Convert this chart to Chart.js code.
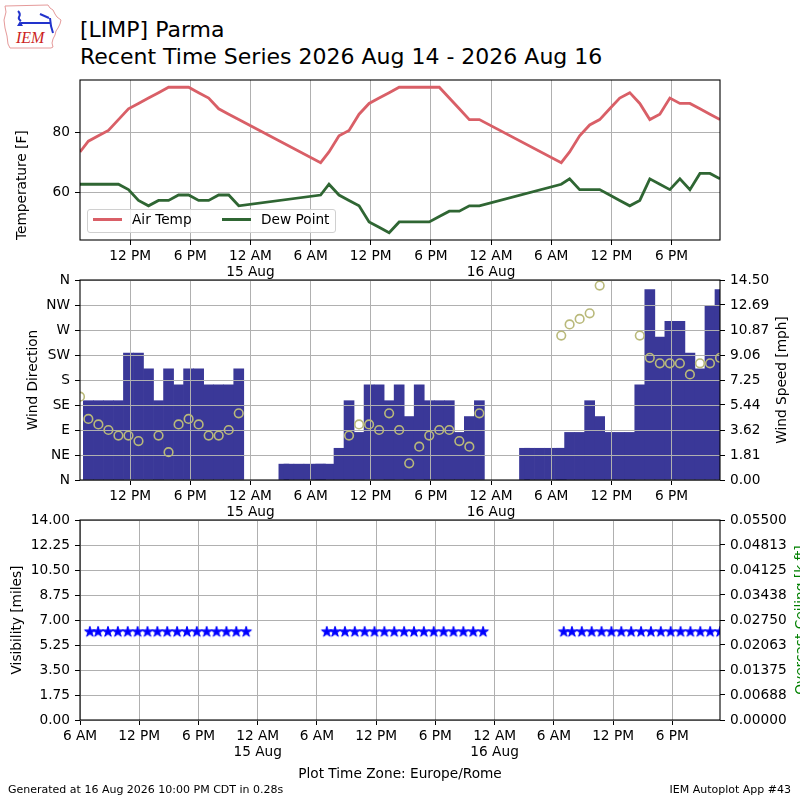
<!DOCTYPE html>
<html><head><meta charset="utf-8">
<script src="https://cdn.jsdelivr.net/npm/chart.js@4.4.1/dist/chart.umd.min.js"></script>
<style>
 html,body{margin:0;padding:0;background:#fff;}
 #wrap{position:relative;width:800px;height:800px;overflow:hidden;background:#fff;font-family:"DejaVu Sans",sans-serif;color:#000;}
 .abs{position:absolute;white-space:nowrap;}
 canvas{position:absolute;left:0;}
</style></head><body>
<div id="wrap">
 <svg class="abs" style="left:0;top:0" width="70" height="55" viewBox="0 0 70 55">
  <path d="M5 6 L48 5 L50 8 L53 10 L55 14 L57 17 L61 20 L60 24 L58 28 L56 31 L55 35 L53 39 L52 43 L53 47 L51 48 L10 48 L8 44 L7 36 L5 28 L4 20 L6 12 Z" fill="none" stroke="#e59a9a" stroke-width="1"/>
  <g stroke="#2233cc" stroke-width="2" fill="none">
   <path d="M21 23 L50 23"/>
   <path d="M18 11 Q21 14 19 17 Q18 19 21 21"/>
   <path d="M40 14 L49 18"/>
   <path d="M50 18 L51 26 L53 33"/>
  </g>
  <path d="M17 26 L20 21 L23 26 Z" fill="#2233cc"/>
  <text x="16" y="43" font-family="Liberation Serif" font-style="italic" font-size="16" fill="#cc2222">IEM</text>
 </svg>
 <div class="abs" style="left:80px;top:17px;font-size:22px;">[LIMP] Parma</div>
 <div class="abs" style="left:80px;top:44px;font-size:22px;">Recent Time Series 2026 Aug 14 - 2026 Aug 16</div>
 <canvas id="c1" width="800" height="290" style="top:0;width:800px;height:290px"></canvas>
 <canvas id="c2" width="800" height="260" style="top:270px;width:800px;height:260px"></canvas>
 <canvas id="c3" width="800" height="290" style="top:510px;width:800px;height:290px"></canvas>
 <div id="legend" class="abs" style="left:87px;top:209px;width:247px;height:22px;border:1px solid #d0d0d0;border-radius:3px;background:rgba(255,255,255,0.8);">
  <div id="lgA" class="abs" style="left:5px;top:8px;width:29px;height:3px;"></div>
  <div class="abs" style="left:44px;top:1px;font-size:13.7px;">Air Temp</div>
  <div id="lgD" class="abs" style="left:134px;top:8px;width:29px;height:3px;"></div>
  <div class="abs" style="left:173px;top:1px;font-size:13.7px;">Dew Point</div>
 </div>
 <div class="abs" style="left:8px;top:783px;font-size:11px;">Generated at 16 Aug 2026 10:00 PM CDT in 0.28s</div>
 <div class="abs" style="right:9px;top:783px;font-size:11px;">IEM Autoplot App #43</div>
</div>
<script>
// ---------------- data ----------------
const obsTimes = [
 '14 07:00','14 07:50','14 08:50','14 09:50','14 10:50','14 11:50','14 12:50','14 13:50','14 14:50','14 15:50','14 16:50','14 17:50','14 18:50','14 19:50','14 20:50','14 21:50','14 22:50',
 '15 07:00','15 07:50','15 08:50','15 09:50','15 10:50','15 11:50','15 12:50','15 13:50','15 14:50','15 15:50','15 16:50','15 17:50','15 18:50','15 19:50','15 20:50','15 21:50','15 22:50',
 '16 07:00','16 07:50','16 08:50','16 09:50','16 10:50','16 11:50','16 12:50','16 13:50','16 14:50','16 15:50','16 16:50','16 17:50','16 18:50','16 19:50','16 20:50','16 21:50','16 22:50'
];
const airTemp = [
 73.4, 77.0, 78.8, 80.6, 84.2, 87.8, 89.6, 91.4, 93.2, 95.0, 95.0, 95.0, 93.2, 91.4, 87.8, 86.0, 84.2,
 69.8, 73.4, 78.8, 80.6, 86.0, 89.6, 91.4, 93.2, 95.0, 95.0, 95.0, 95.0, 95.0, 91.4, 87.8, 84.2, 84.2,
 69.8, 73.4, 78.8, 82.4, 84.2, 87.8, 91.4, 93.2, 89.6, 84.2, 86.0, 91.4, 89.6, 89.6, 87.8, 86.0, 84.2
];
const dewPoint = [
 62.6, 62.6, 62.6, 62.6, 62.6, 60.8, 57.2, 55.4, 57.2, 57.2, 59.0, 59.0, 57.2, 57.2, 59.0, 59.0, 55.4,
 59.0, 62.6, 59.0, 57.2, 55.4, 50.0, 48.2, 46.4, 50.0, 50.0, 50.0, 50.0, 51.8, 53.6, 53.6, 55.4, 55.4,
 62.6, 64.4, 60.8, 60.8, 60.8, 59.0, 57.2, 55.4, 57.2, 64.4, 62.6, 60.8, 64.4, 60.8, 66.2, 66.2, 64.4
];
const windDir = [
 150, 110, 100, 90, 80, 80, 70, null, 80, 50, 100, 110, 100, 80, 80, 90, 120,
 null, null, null, 80, 100, 100, 90, 120, 90, 30, 60, 80, 90, 90, 70, 60, 120,
 260, 280, 290, 300, 350, null, null, null, 260, 220, 210, 210, 210, 190, 210, 210, 220
];
const windSpeed = [   // mph
 null, 5.75, 5.75, 5.75, 5.75, 9.21, 9.21, 8.06, 5.75, 8.06, 6.90, 8.06, 8.06, 6.90, 6.90, 6.90, 8.06,
 1.15, 1.15, 2.30, 5.75, 3.45, 6.90, 6.90, 5.75, 6.90, 4.60, 6.90, 5.75, 5.75, 5.75, 3.45, 4.60, 5.75,
 2.30, 3.45, 3.45, 5.75, 4.60, 3.45, 3.45, 3.45, 6.90, 13.81, 10.36, 11.51, 11.51, 9.21, 8.06, 12.66, 13.81
];
const nightTimes = ['15 03:20','15 03:50','15 04:50','15 05:50','15 06:50','16 03:20','16 03:50','16 04:50','16 05:50','16 06:50'];
const nightSpeed = [1.15, 1.15, 1.15, 1.15, 1.15, 2.30, 2.30, 2.30, 2.30, 2.30];
const visibility = [
 6.21, 6.21, 6.21, 6.21, 6.21, 6.21, 6.21, 6.21, 6.21, 6.21, 6.21, 6.21, 6.21, 6.21, 6.21, 6.21, 6.21,
 6.21, 6.21, 6.21, 6.21, 6.21, 6.21, 6.21, 6.21, 6.21, 6.21, 6.21, 6.21, 6.21, 6.21, 6.21, 6.21, 6.21,
 6.21, 6.21, 6.21, 6.21, 6.21, 6.21, 6.21, 6.21, 6.21, 6.21, 6.21, 6.21, 6.21, 6.21, 6.21, 6.21, 6.21
];
const timeTickHours = [6, 12, 18, 24, 30, 36, 42, 48, 54, 60, 66];
const timeTickLabels = ['6 AM','12 PM','6 PM',['12 AM','15 Aug'],'6 AM','12 PM','6 PM',['12 AM','16 Aug'],'6 AM','12 PM','6 PM'];
const tempTickLabels = ['60','80'];
const dirTickValues = [0, 45, 90, 135, 180, 225, 270, 315, 360];
const dirTickLabels = ['N','NE','E','SE','S','SW','W','NW','N'];
const speedTickLabels = ['0.00','1.81','3.62','5.44','7.25','9.06','10.87','12.69','14.50'];
const visTickLabels = ['0.00','1.75','3.50','5.25','7.00','8.75','10.50','12.25','14.00'];
const ceilTickLabels = ['0.00000','0.00688','0.01375','0.02063','0.02750','0.03438','0.04125','0.04813','0.05500'];
const bottomAxisStartHour = 6;

// ---------------- styles ----------------
const FS = 13.7;
const RED = '#d95f67', GREEN = '#2f6633', BLUE = '#3a3898', OLIVE = '#b9b97a', STAR = '#0000ff', GRID = '#b0b0b0';
document.getElementById('lgA').style.background = RED;
document.getElementById('lgD').style.background = GREEN;

Chart.defaults.font.family = '"DejaVu Sans", sans-serif';
Chart.defaults.font.size = FS;
Chart.defaults.color = '#000';
Chart.defaults.animation = false;
Chart.defaults.plugins.legend.display = false;
Chart.defaults.plugins.tooltip.enabled = false;

function toHours(s) {
  const [d, hm] = s.split(' ');
  const [h, m] = hm.split(':').map(Number);
  return (Number(d) - 14) * 24 + h + m / 60;
}
const obsHours = obsTimes.map(toHours);
const nightHours = nightTimes.map(toHours);

function pts(xs, ys) {
  return xs.map((x, i) => ({x, y: ys[i]})).filter(p => p.y !== null && p.y !== undefined);
}

function timeAxis(min, max, height, extra) {
  return Object.assign({
    type: 'linear', min, max, offset: false, bounds: 'data',
    grid: {color: GRID, lineWidth: 1, tickColor: '#000', tickLength: 5, tickWidth: 1, offset: false},
    border: {display: false},
    ticks: {autoSkip: false, maxRotation: 0, minRotation: 0, padding: 3,
      callback: (v) => { const i = timeTickHours.indexOf(v); return i < 0 ? '' : timeTickLabels[i]; }},
    afterBuildTicks: (s) => { s.ticks = timeTickHours.filter(h => h >= s.min - 1e-9 && h <= s.max + 1e-9).map(h => ({value: h})); },
    afterFit: (s) => { s.height = height; s.paddingLeft = 0; s.paddingRight = 0; }
  }, extra || {});
}

function valueAxis(position, values, labels, min, max, gridOn, extra) {
  return Object.assign({
    type: 'linear', position, min, max, bounds: 'data',
    grid: gridOn ? {color: GRID, lineWidth: 1, tickColor: '#000', tickLength: 5, tickWidth: 1}
                 : {drawOnChartArea: false, tickColor: '#000', tickLength: 5, tickWidth: 1},
    border: {display: false},
    ticks: {autoSkip: false, padding: 5,
      callback: (v) => { const i = values.findIndex(t => Math.abs(t - v) < 1e-9); return i < 0 ? '' : labels[i]; }},
    afterBuildTicks: (s) => { s.ticks = values.map(v => ({value: v})); },
    afterFit: (s) => { s.width = 80; s.paddingTop = 0; s.paddingBottom = 0; }
  }, extra || {});
}

const spines = {id: 'spines', afterDraw(chart) {
  const a = chart.chartArea, c = chart.ctx;
  c.save(); c.strokeStyle = '#000'; c.lineWidth = 1.1;
  c.strokeRect(a.left, a.top, a.right - a.left, a.bottom - a.top);
  c.restore();
}};
const gridOverBars = {id: 'gridOverBars', afterDatasetDraw(chart, args) {
  if (args.meta.type !== 'bar') return;
  chart.scales.x.drawGrid(chart.chartArea);
  chart.scales.y.drawGrid(chart.chartArea);
}};
const sideTitle = {id: 'sideTitle', afterDraw(chart, args, opts) {
  (opts.items || []).forEach(it => {
    const s = chart.scales[it.scale], c = chart.ctx;
    c.save();
    c.translate(s.right - it.offset, (s.top + s.bottom) / 2);
    c.rotate(-Math.PI / 2);
    c.font = FS + 'px "DejaVu Sans", sans-serif';
    c.fillStyle = it.color; c.textAlign = 'center'; c.textBaseline = 'middle';
    c.fillText(it.text, 0, 0);
    c.restore();
  });
}};

const xMin = Math.min(...obsHours), xMax = Math.max(...obsHours);

// ---------------- panel 1: temperature ----------------
const allT = airTemp.concat(dewPoint);
const tLo = Math.min(...allT), tHi = Math.max(...allT), tPad = (tHi - tLo) * 0.05;
new Chart(document.getElementById('c1'), {
  type: 'scatter',
  data: {datasets: [
    {type: 'line', label: 'Air Temp', data: pts(obsHours, airTemp), borderColor: RED, borderWidth: 2.8, pointRadius: 0, tension: 0, clip: 0, order: 2},
    {type: 'line', label: 'Dew Point', data: pts(obsHours, dewPoint), borderColor: GREEN, borderWidth: 2.8, pointRadius: 0, tension: 0, clip: 0, order: 1}
  ]},
  options: {
    responsive: false, maintainAspectRatio: false,
    layout: {padding: {top: 80, right: 80, bottom: 0, left: 0}},
    scales: {
      x: timeAxis(xMin, xMax, 50),
      y: valueAxis('left', tempTickLabels.map(Number), tempTickLabels, tLo - tPad, tHi + tPad, true,
        {title: {display: true, text: 'Temperature [F]', align: 'start', padding: {top: 14, bottom: 0}}})
    }
  },
  plugins: [spines]
});

// ---------------- panel 2: wind ----------------
const windBars = pts(obsHours, windSpeed).concat(pts(nightHours, nightSpeed)).sort((a, b) => a.x - b.x);
const speedVals = speedTickLabels.map(Number);
new Chart(document.getElementById('c2'), {
  type: 'scatter',
  data: {datasets: [
    {type: 'bar', label: 'Wind Speed', data: windBars, yAxisID: 'y1', backgroundColor: BLUE, borderWidth: 0, order: 2, clip: 0,
     barThickness: (ctx) => { const s = ctx.chart.scales.x; return Math.abs(s.getPixelForValue(1) - s.getPixelForValue(0)); }},
    {type: 'scatter', label: 'Wind Direction', data: pts(obsHours, windDir), yAxisID: 'y', order: 1, clip: 0,
     pointStyle: 'circle', pointRadius: 4.3, pointBorderWidth: 1.6, borderColor: OLIVE, backgroundColor: 'rgba(0,0,0,0)'}
  ]},
  options: {
    responsive: false, maintainAspectRatio: false,
    layout: {padding: {top: 10, right: 0, bottom: 0, left: 0}},
    scales: {
      x: timeAxis(xMin, xMax, 50),
      y: valueAxis('left', dirTickValues, dirTickLabels, dirTickValues[0], dirTickValues[dirTickValues.length - 1], true,
        {title: {display: true, text: 'Wind Direction', padding: {top: 25, bottom: 0}}}),
      y1: valueAxis('right', speedVals, speedTickLabels, speedVals[0], speedVals[speedVals.length - 1], false)
    },
    plugins: {sideTitle: {items: [{scale: 'y1', text: 'Wind Speed [mph]', offset: 18, color: '#000'}]}}
  },
  plugins: [gridOverBars, spines, sideTitle]
});

// ---------------- panel 3: visibility / ceiling ----------------
function makeStar(r, color) {
  const size = Math.ceil(r * 2) + 4;
  const c = document.createElement('canvas');
  c.width = size; c.height = size;
  const g = c.getContext('2d');
  g.translate(size / 2, size / 2 + r * 0.1);
  g.beginPath();
  for (let k = 0; k < 10; k++) {
    const rad = k % 2 === 0 ? r : r * 0.382;
    const ang = -Math.PI / 2 + k * Math.PI / 5;
    g.lineTo(rad * Math.cos(ang), rad * Math.sin(ang));
  }
  g.closePath();
  g.fillStyle = color; g.fill();
  g.strokeStyle = color; g.lineWidth = 1; g.stroke();
  return c;
}
const visVals = visTickLabels.map(Number), ceilVals = ceilTickLabels.map(Number);
new Chart(document.getElementById('c3'), {
  type: 'scatter',
  data: {datasets: [
    {type: 'scatter', label: 'Visibility', data: pts(obsHours, visibility), yAxisID: 'y', clip: 0,
     pointStyle: makeStar(5.6, STAR), pointRadius: 6, borderColor: STAR, backgroundColor: STAR}
  ]},
  options: {
    responsive: false, maintainAspectRatio: false,
    layout: {padding: {top: 10, right: 0, bottom: 0, left: 0}},
    scales: {
      x: timeAxis(bottomAxisStartHour, xMax, 80,
        {title: {display: true, text: 'Plot Time Zone: Europe/Rome', padding: {top: 0, bottom: 17}}}),
      y: valueAxis('left', visVals, visTickLabels, visVals[0], visVals[visVals.length - 1], true,
        {title: {display: true, text: 'Visibility [miles]', padding: {top: 9, bottom: 0}}}),
      y1: valueAxis('right', ceilVals, ceilTickLabels, ceilVals[0], ceilVals[ceilVals.length - 1], false)
    },
    plugins: {sideTitle: {items: [{scale: 'y1', text: 'Overcast Ceiling [k ft]', offset: -1, color: '#008000'}]}}
  },
  plugins: [spines, sideTitle]
});
</script>
</body></html>
